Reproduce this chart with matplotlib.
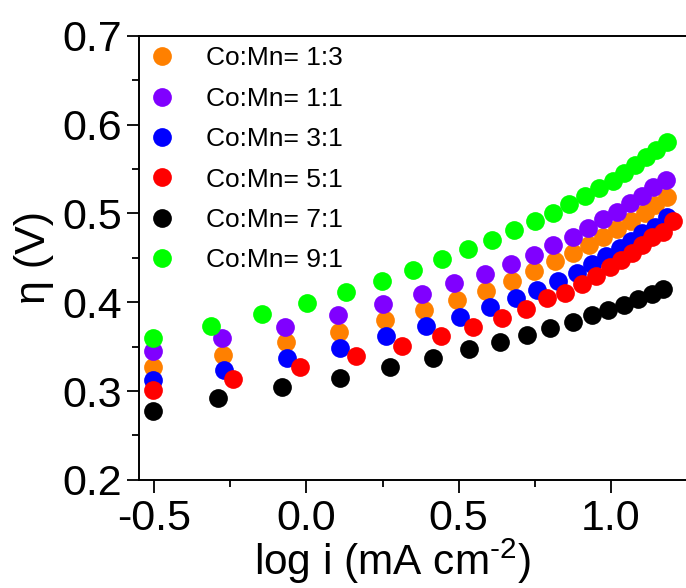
import matplotlib
matplotlib.use("Agg")
import matplotlib.pyplot as plt
from matplotlib.ticker import MultipleLocator

plt.rcParams["font.family"] = ["Liberation Sans", "DejaVu Sans"]
plt.rcParams["mathtext.fontset"] = "custom"
plt.rcParams["mathtext.rm"] = "Liberation Sans"

labels = ["Co:Mn= 1:3", "Co:Mn= 1:1", "Co:Mn= 3:1", "Co:Mn= 5:1", "Co:Mn= 7:1", "Co:Mn= 9:1"]
colors = ["#FF8000", "#8000FF", "#0000FF", "#FF0000", "#000000", "#00FF00"]

# log i (mA cm-2) and overpotential (V) for each Co:Mn ratio
x_13 = [-0.503, -0.274, -0.067, 0.107, 0.257, 0.385, 0.493, 0.589, 0.674, 0.746,
        0.815, 0.874, 0.926, 0.975, 1.021, 1.067, 1.110, 1.143, 1.182]
y_13 = [0.327, 0.341, 0.355, 0.367, 0.380, 0.391, 0.403, 0.413, 0.424, 0.435,
        0.446, 0.455, 0.465, 0.474, 0.483, 0.492, 0.501, 0.509, 0.519]

x_11 = [-0.503, -0.277, -0.070, 0.103, 0.251, 0.379, 0.484, 0.585, 0.670, 0.746,
        0.811, 0.874, 0.923, 0.972, 1.018, 1.061, 1.103, 1.139, 1.179]
y_11 = [0.345, 0.360, 0.372, 0.386, 0.398, 0.409, 0.422, 0.432, 0.443, 0.453,
        0.464, 0.474, 0.484, 0.494, 0.502, 0.512, 0.520, 0.530, 0.538]

x_31 = [-0.505, -0.270, -0.064, 0.110, 0.261, 0.392, 0.503, 0.602, 0.687, 0.756,
        0.825, 0.887, 0.939, 0.985, 1.028, 1.067, 1.103, 1.143, 1.182]
y_31 = [0.312, 0.324, 0.337, 0.349, 0.362, 0.373, 0.383, 0.395, 0.405, 0.414,
        0.424, 0.433, 0.443, 0.452, 0.461, 0.469, 0.478, 0.485, 0.496]

x_51 = [-0.505, -0.241, -0.021, 0.162, 0.313, 0.441, 0.546, 0.641, 0.720, 0.789,
        0.848, 0.903, 0.949, 0.995, 1.034, 1.070, 1.103, 1.136, 1.169, 1.202]
y_51 = [0.301, 0.314, 0.327, 0.339, 0.351, 0.362, 0.372, 0.382, 0.392, 0.405,
        0.410, 0.421, 0.430, 0.440, 0.448, 0.456, 0.464, 0.473, 0.479, 0.492]

x_71 = [-0.505, -0.290, -0.080, 0.110, 0.274, 0.415, 0.533, 0.634, 0.723, 0.798,
        0.874, 0.936, 0.989, 1.044, 1.087, 1.133, 1.172]
y_71 = [0.278, 0.292, 0.304, 0.315, 0.327, 0.337, 0.347, 0.355, 0.363, 0.371,
        0.378, 0.386, 0.391, 0.397, 0.404, 0.409, 0.415]

x_91 = [-0.503, -0.313, -0.146, 0.002, 0.130, 0.248, 0.349, 0.444, 0.530, 0.608,
        0.680, 0.749, 0.808, 0.861, 0.913, 0.959, 1.005, 1.044, 1.080, 1.116,
        1.149, 1.182]
y_91 = [0.360, 0.373, 0.387, 0.399, 0.412, 0.424, 0.436, 0.449, 0.460, 0.470,
        0.481, 0.491, 0.501, 0.511, 0.520, 0.529, 0.537, 0.546, 0.555, 0.564,
        0.571, 0.580]

series_x = [x_13, x_11, x_31, x_51, x_71, x_91]
series_y = [y_13, y_11, y_31, y_51, y_71, y_91]

fig = plt.figure(figsize=(6.86, 5.88), dpi=100)
ax = fig.add_axes([0.202, 0.184, 0.798, 0.755])

for xs, ys, c, lab in zip(series_x, series_y, colors, labels):
    ax.plot(xs, ys, "o", color=c, markersize=13.5, markeredgewidth=0, label=lab)

ax.set_xlim(-0.551, 1.246)
ax.set_ylim(0.2, 0.7)
ax.xaxis.set_major_locator(MultipleLocator(0.5))
ax.xaxis.set_minor_locator(MultipleLocator(0.25))
ax.yaxis.set_major_locator(MultipleLocator(0.1))
ax.yaxis.set_minor_locator(MultipleLocator(0.05))
ax.xaxis.set_major_formatter(lambda v, p: f"{v:.1f}")
ax.yaxis.set_major_formatter(lambda v, p: f"{v:.1f}")

ax.spines["right"].set_visible(False)
for s in ["left", "bottom", "top"]:
    ax.spines[s].set_linewidth(1.4)
ax.tick_params(which="major", direction="out", length=9, width=1.3,
               labelsize=31, pad=3)
ax.tick_params(which="minor", direction="out", length=5, width=1.3)
ax.tick_params(axis="x", which="major", pad=5)

ax.set_xlabel("log i (mA cm$^{\\text{-2}}$)", fontsize=30.5)
ax.xaxis.set_label_coords(0.463, -0.128)
ax.set_ylabel("η (V)", fontsize=31, labelpad=6)

ax.legend(loc="upper left", bbox_to_anchor=(0.0, 1.0), frameon=False,
          fontsize=19, handlelength=1.0, handletextpad=1.15,
          labelspacing=0.62, borderaxespad=0.2, borderpad=0.2)

fig.savefig("out.png", dpi=100)
